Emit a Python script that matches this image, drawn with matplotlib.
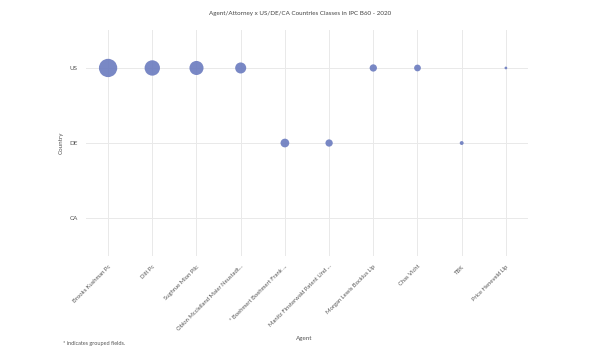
import numpy as np
import matplotlib.pyplot as plt
import matplotlib.transforms as mtransforms

plt.rcParams['font.family'] = ['Lato', 'DejaVu Sans']

# Data
agents = ['Brooks Kushman Pc', 'Dilt Pc', 'Sughrue Mion Pllc',
          'Oblon Mcclelland Maier Neustadt...', '* Boehmert Boehmert Frank ...',
          'Manitz Finsterwald Patent Und ...', 'Morgan Lewis Bockius Llp',
          'Chas Vicht', 'TBK', 'Price Heneveld Llp']
countries = ['CA', 'DE', 'US']
agent_country = ['US', 'US', 'US', 'US', 'DE', 'DE', 'US', 'US', 'DE', 'US']
counts = [44, 31, 26, 16, 10, 7, 7, 6, 2, 1]

fig = plt.figure(figsize=(6, 3.54), dpi=100)
ax = fig.add_axes([0.1433, 0.278, 0.7367, 0.636])

x = np.arange(len(agents))
y = [countries.index(c) for c in agent_country]
sizes = np.array(counts) * 3.95

ax.scatter(x, y, s=sizes, color='#6b7bbf', alpha=0.9, linewidths=0, zorder=3)

ax.set_xlim(-0.5, len(agents) - 0.5)
ax.set_ylim(-0.5, len(countries) - 0.5)
ax.set_xticks(x)
ax.set_xticklabels(agents, rotation=45, ha='right', rotation_mode='anchor',
                   fontsize=4.2, color='#555555')
# nudge the rotated labels a little to the right
offset = mtransforms.ScaledTranslation(3 / 100, 0, fig.dpi_scale_trans)
for lbl in ax.get_xticklabels():
    lbl.set_transform(lbl.get_transform() + offset)
ax.set_yticks(range(len(countries)))
ax.set_yticklabels(countries, fontsize=4.5, color='#555555')
ax.tick_params(length=0, pad=6)
ax.grid(True, color='#e9e9e9', linewidth=0.7, zorder=0)
for s in ax.spines.values():
    s.set_visible(False)

ax.set_xlabel('Agent', fontsize=4.5, color='#555555')
ax.xaxis.set_label_coords(0.494, -0.355)
ax.set_ylabel('Country', fontsize=4.5, color='#555555')
ax.yaxis.set_label_coords(-0.05, 0.5)

fig.text(0.5, 0.963, 'Agent/Attorney x US/DE/CA Countries Classes in IPC B60 - 2020',
         ha='center', va='center', fontsize=4.5, color='#444444')
fig.text(0.105, 0.031, '* indicates grouped fields.', ha='left', va='center',
         fontsize=4, color='#555555')

fig.savefig('out.png', dpi=100)
